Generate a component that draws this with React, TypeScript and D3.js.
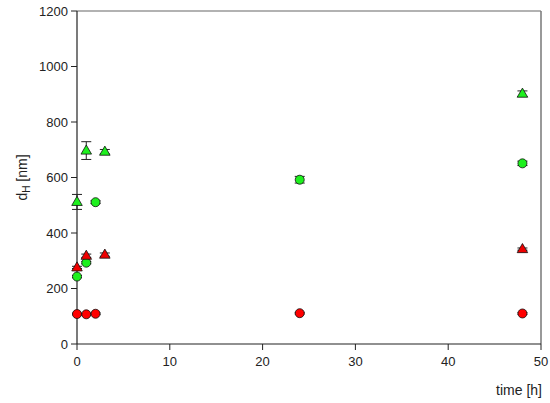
import React from "react";
import * as d3 from "d3";

// green triangles
const gTriT = [0, 1, 3, 48];
const gTriV = [512, 697, 693, 902];
const gTriE = [27, 32, 8, 10];
// green circles
const gCirT = [0, 1, 2, 24, 48];
const gCirV = [243, 293, 511, 592, 651];
const gCirE = [4, 4, 5, 12, 8];
// red triangles
const rTriT = [0, 1, 3, 48];
const rTriV = [276, 318, 322, 342];
const rTriE = [4, 6, 6, 4];
// red circles
const rCirT = [0, 1, 2, 24, 48];
const rCirV = [108, 107, 109, 111, 110];
const rCirE = [3, 3, 3, 3, 3];

const xTicks = [0, 10, 20, 30, 40, 50];
const yTicks = [0, 200, 400, 600, 800, 1000, 1200];

const W = 550;
const H = 403;
const m = { left: 77, right: 9, top: 11, bottom: 59 };
const FONT = "Liberation Sans, Arial, sans-serif";

type Pt = { t: number; v: number; e: number };
const zip = (t: number[], v: number[], e: number[]): Pt[] =>
  t.map((d, i) => ({ t: d, v: v[i], e: e[i] }));

export default function App() {
  const x = d3.scaleLinear().domain([0, 50]).range([m.left, W - m.right]);
  const y = d3.scaleLinear().domain([0, 1200]).range([H - m.bottom, m.top]);

  const series = [
    { pts: zip(rCirT, rCirV, rCirE), shape: "circle", fill: "#ff0000" },
    { pts: zip(gCirT, gCirV, gCirE), shape: "circle", fill: "#1ef01e" },
    { pts: zip(rTriT, rTriV, rTriE), shape: "tri", fill: "#ee0000" },
    { pts: zip(gTriT, gTriV, gTriE), shape: "tri", fill: "#1ef01e" },
  ];
  const tri = d3.symbol(d3.symbolTriangle, 48)();

  const x0 = x(0);
  const y0 = y(0);
  return (
    <svg
      width={W}
      height={H}
      style={{ position: "absolute", left: 0, top: 0, background: "#fff" }}
      fontFamily={FONT}
    >
      {/* frame */}
      <line x1={x0} x2={x(50)} y1={y(1200)} y2={y(1200)} stroke="#666" strokeWidth={1.2} />
      <line x1={x(50)} x2={x(50)} y1={y(1200)} y2={y0} stroke="#777" strokeWidth={1.5} />
      <line x1={x0} x2={x0} y1={y(1200)} y2={y0} stroke="#222" strokeWidth={1.2} />
      <line x1={x0} x2={x(50)} y1={y0} y2={y0} stroke="#222" strokeWidth={1.2} />
      {yTicks.map((t) => (
        <g key={"y" + t}>
          <line x1={x0 - 6} x2={x0} y1={y(t)} y2={y(t)} stroke="#222" strokeWidth={1} />
          <text x={x0 - 9} y={y(t)} dy="0.35em" textAnchor="end" fontSize={13} fill="#222">
            {t}
          </text>
        </g>
      ))}
      {xTicks.map((t) => (
        <g key={"x" + t}>
          <line x1={x(t)} x2={x(t)} y1={y0} y2={y0 + 6} stroke="#222" strokeWidth={1} />
          <text x={x(t)} y={y0 + 22} textAnchor="middle" fontSize={13} fill="#222">
            {t}
          </text>
        </g>
      ))}
      <text x={x(50) + 1} y={395} textAnchor="end" fontSize={14} fill="#222">
        time [h]
      </text>
      <text
        transform={`translate(27,${y(600)}) rotate(-90)`}
        textAnchor="middle"
        fontSize={14}
        fill="#222"
      >
        d<tspan fontSize={10} dy={3}>H</tspan>
        <tspan dy={-3}> [nm]</tspan>
      </text>
      {series.map((s, si) => (
        <g key={si}>
          {s.pts.map((p, i) => (
            <g key={i}>
              <line x1={x(p.t)} x2={x(p.t)} y1={y(p.v - p.e)} y2={y(p.v + p.e)} stroke="#222" strokeWidth={1} />
              <line x1={x(p.t) - 5} x2={x(p.t) + 5} y1={y(p.v - p.e)} y2={y(p.v - p.e)} stroke="#222" strokeWidth={1} />
              <line x1={x(p.t) - 5} x2={x(p.t) + 5} y1={y(p.v + p.e)} y2={y(p.v + p.e)} stroke="#222" strokeWidth={1} />
            </g>
          ))}
          {s.pts.map((p, i) =>
            s.shape === "circle" ? (
              <circle key={"m" + i} cx={x(p.t)} cy={y(p.v)} r={4.5} fill={s.fill} stroke="#111" strokeWidth={0.8} />
            ) : (
              <path
                key={"m" + i}
                d={tri || ""}
                transform={`translate(${x(p.t)},${y(p.v) + 0.5})`}
                fill={s.fill}
                stroke="#111"
                strokeWidth={0.8}
              />
            )
          )}
        </g>
      ))}
    </svg>
  );
}
